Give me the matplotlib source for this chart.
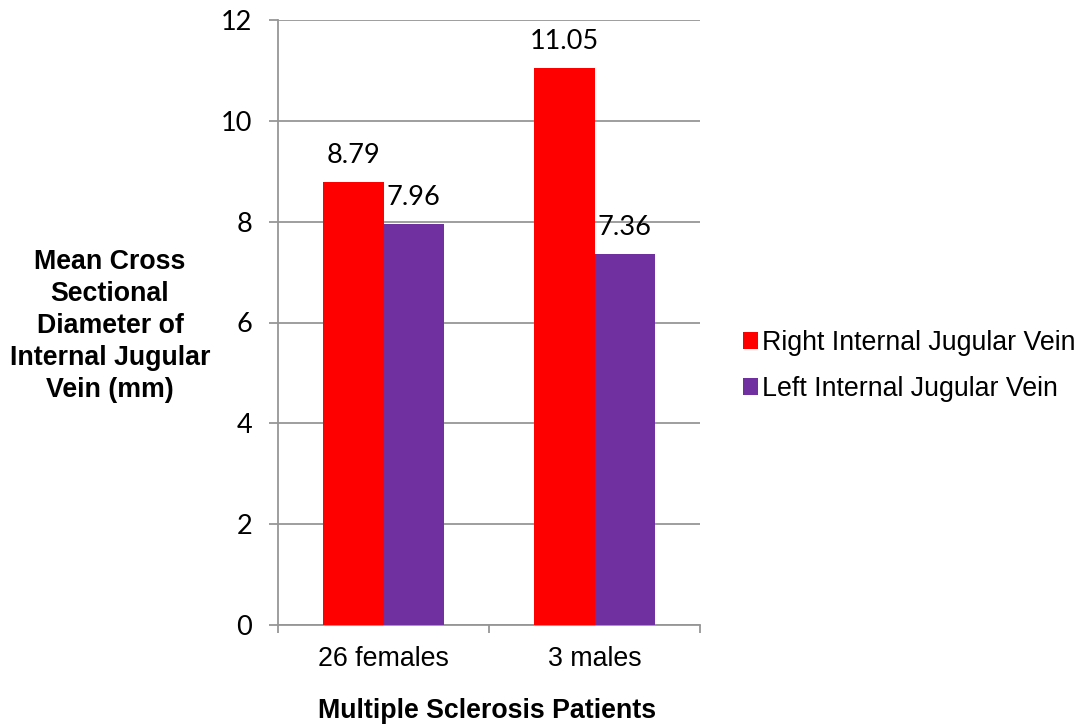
import matplotlib.pyplot as plt
import numpy as np

categories = ["26 females", "3 males"]
series_names = ["Right Internal Jugular Vein", "Left Internal Jugular Vein"]
right_ijv = [8.79, 11.05]
left_ijv = [7.96, 7.36]
y_ticks = [0, 2, 4, 6, 8, 10, 12]

COLORS = ["#FF0000", "#7030A0"]
GRID = "#969696"

fig = plt.figure(figsize=(10.8, 7.24), dpi=100)
ax = fig.add_axes([278 / 1080, 1 - 625 / 724, 422 / 1080, 605 / 724])

x = np.arange(len(categories))
w = 0.285
for k, (vals, name) in enumerate(zip([right_ijv, left_ijv], series_names)):
    pos = x + (k - 0.5) * w
    ax.bar(pos, vals, width=w, color=COLORS[k], label=name, zorder=3)
    for px, v in zip(pos, vals):
        ax.annotate(f"{v:.2f}", (px, v), xytext=(0, 10), textcoords="offset points",
                    ha="center", va="bottom", fontsize=19.5, family="Lato")

ax.set_xlim(-0.5, len(categories) - 0.5)
ax.set_ylim(0, 12)
ax.set_yticks(y_ticks)
ax.set_yticklabels([str(t) for t in y_ticks], family="Lato", fontsize=19.5)
ax.yaxis.grid(True, color=GRID, linewidth=1.3, zorder=0)
ax.tick_params(axis="y", length=6.5, width=1.3, color=GRID, pad=12)

# category labels between boundary ticks
ax.set_xticks([-0.5, 0.5, 1.5])
ax.set_xticklabels([])
ax.set_xticks(x, minor=True)
ax.set_xticklabels(categories, minor=True, family="Liberation Sans", fontsize=19.3)
ax.tick_params(axis="x", which="major", length=6, width=1.3, color=GRID)
ax.tick_params(axis="x", which="minor", length=0, pad=15)

for s in ["top", "right"]:
    ax.spines[s].set_visible(False)
for s in ["left", "bottom"]:
    ax.spines[s].set_color(GRID)
    ax.spines[s].set_linewidth(1.3)

fig.text(487 / 1080, 1 - 711 / 724, "Multiple Sclerosis Patients", ha="center", va="center",
         fontsize=19.3, fontweight="bold", family="Liberation Sans")
fig.text(110 / 1080, 1 - 326 / 724, "Mean Cross\nSectional\nDiameter of\nInternal Jugular\nVein (mm)",
         ha="center", va="center", fontsize=19.3, fontweight="bold", family="Liberation Sans",
         linespacing=1.3)

fig.legend(loc="center left", bbox_to_anchor=(719 / 1080, 1 - 366 / 724), frameon=False,
           prop={"family": "Liberation Sans", "size": 19.3}, handlelength=0.55, handleheight=0.55,
           handletextpad=0.15, labelspacing=0.75)

fig.savefig("out.png", dpi=100)
